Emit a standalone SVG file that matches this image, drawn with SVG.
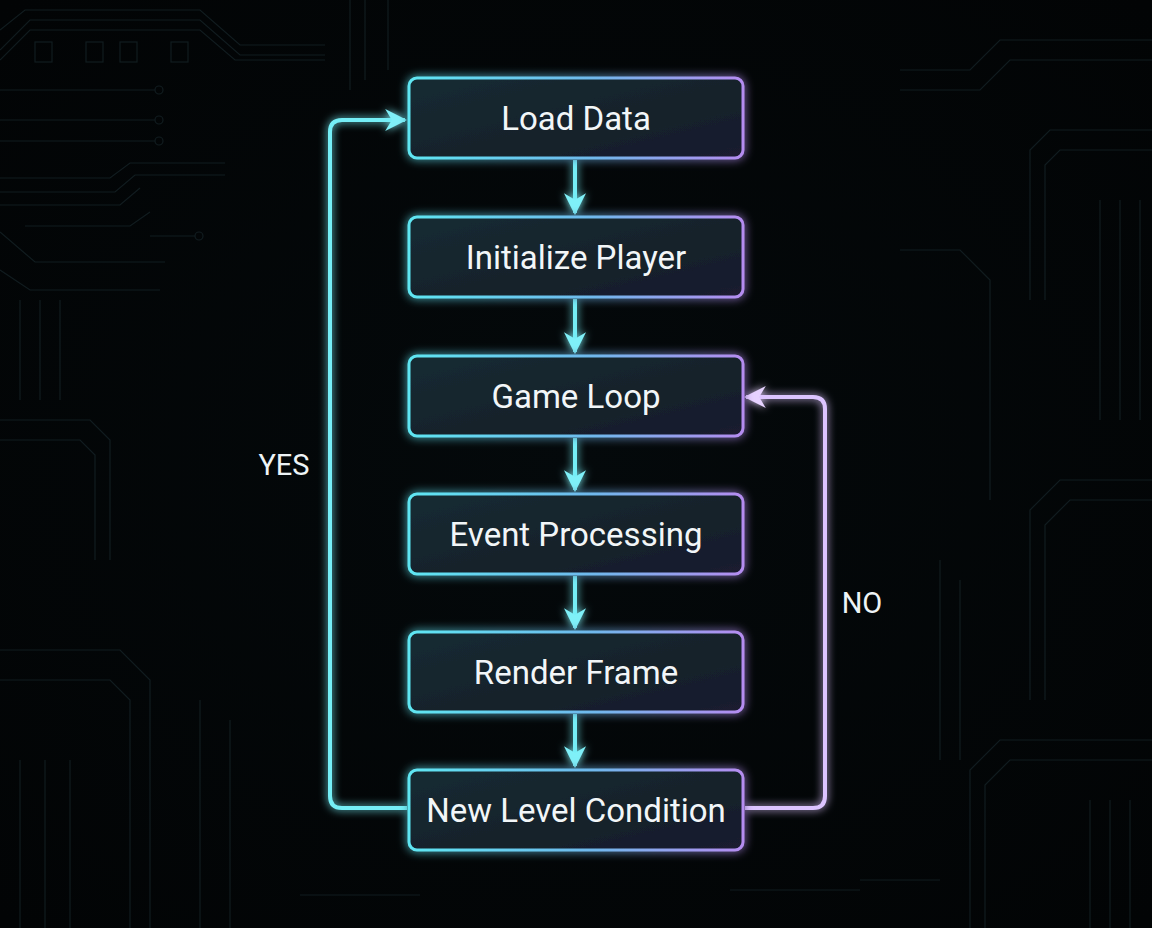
<svg xmlns="http://www.w3.org/2000/svg" width="1152" height="928" viewBox="0 0 1152 928">
<defs>
<linearGradient id="bstroke" x1="0" y1="0" x2="1" y2="0">
<stop offset="0" stop-color="#5fe6f2"/>
<stop offset="0.55" stop-color="#6fb8ec"/>
<stop offset="1" stop-color="#b58cf0"/>
</linearGradient>
<linearGradient id="bfill" x1="0" y1="0" x2="1" y2="1">
<stop offset="0" stop-color="#142b32"/>
<stop offset="0.6" stop-color="#12222b"/>
<stop offset="1" stop-color="#1b1a30"/>
</linearGradient>
<radialGradient id="bg" cx="0.5" cy="0.5" r="0.7">
<stop offset="0" stop-color="#04090b"/>
<stop offset="1" stop-color="#020405"/>
</radialGradient>
<filter id="glow" x="-20%" y="-40%" width="140%" height="180%">
<feGaussianBlur in="SourceGraphic" stdDeviation="5" result="b"/>
<feMerge><feMergeNode in="b"/><feMergeNode in="SourceGraphic"/></feMerge>
</filter>
<filter id="lglow" filterUnits="userSpaceOnUse" x="0" y="0" width="1152" height="928">
<feGaussianBlur in="SourceGraphic" stdDeviation="4" result="b"/>
<feMerge><feMergeNode in="b"/><feMergeNode in="SourceGraphic"/></feMerge>
</filter>
<marker id="ad" viewBox="0 0 10 10" refX="9" refY="5" markerWidth="22" markerHeight="22" orient="auto" markerUnits="userSpaceOnUse">
<path d="M0,0 L10,5 L0,10 L3,5 Z" fill="#7ff0f8"/>
</marker>
<marker id="ap" viewBox="0 0 10 10" refX="9" refY="5" markerWidth="22" markerHeight="22" orient="auto" markerUnits="userSpaceOnUse">
<path d="M0,0 L10,5 L0,10 L3,5 Z" fill="#e6d2ff"/>
</marker>
</defs>
<style>
.box{fill:url(#bfill);stroke:url(#bstroke);stroke-width:3;filter:url(#glow)}
.lbl{font-family:Roboto,"Liberation Sans",sans-serif;font-size:33px;fill:#f2f6f8;text-anchor:middle;dominant-baseline:central}
.side{font-family:Roboto,"Liberation Sans",sans-serif;font-size:29px;fill:#eef4f6;text-anchor:middle;dominant-baseline:central}
.cyan{fill:none;stroke:#74eef6;stroke-width:4;filter:url(#lglow)}
.purp{fill:none;stroke:#dcc4ff;stroke-width:4;filter:url(#lglow)}
.trace{fill:none;stroke:#152226;stroke-width:1.2}
</style>
<rect width="1152" height="928" fill="url(#bg)"/>
<g id="background" opacity="0.8">
<path class="trace" d="M0,30 L25,10 L200,10 L240,45 L325,45"/>
<path class="trace" d="M0,50 L30,20 L200,20 L240,55 L325,55"/>
<path class="trace" d="M0,60 L30,30 L200,30 L235,60 L325,60"/>
<rect class="trace" x="35" y="42" width="17" height="20"/>
<rect class="trace" x="86" y="42" width="17" height="20"/>
<rect class="trace" x="120" y="42" width="17" height="20"/>
<rect class="trace" x="171" y="42" width="17" height="20"/>
<path class="trace" d="M0,90 L155,90"/><circle class="trace" cx="159" cy="90" r="4"/>
<path class="trace" d="M0,120 L155,120"/><circle class="trace" cx="159" cy="120" r="4"/>
<path class="trace" d="M0,141 L155,141"/><circle class="trace" cx="159" cy="141" r="4"/>
<path class="trace" d="M0,178 L110,178 L130,163 L225,163"/>
<path class="trace" d="M0,192 L115,192 L135,175 L225,175"/>
<path class="trace" d="M0,205 L120,205 L140,188"/>
<path class="trace" d="M25,226 L130,226 L150,212"/>
<path class="trace" d="M0,232 L35,262 L165,262"/>
<path class="trace" d="M150,236 L195,236"/><circle class="trace" cx="199" cy="236" r="4"/>
<path class="trace" d="M0,270 L30,290 L160,290"/>
<path class="trace" d="M350,0 L350,90"/><path class="trace" d="M365,0 L365,80"/><path class="trace" d="M388,0 L388,70"/>
<path class="trace" d="M0,420 L90,420 L110,440 L110,560"/>
<path class="trace" d="M0,440 L80,440 L95,455 L95,560"/>
<path class="trace" d="M20,300 L20,400"/><path class="trace" d="M40,300 L40,400"/><path class="trace" d="M60,300 L60,400"/>
<path class="trace" d="M0,650 L120,650 L150,680 L150,928"/>
<path class="trace" d="M0,680 L110,680 L130,700 L130,928"/>
<path class="trace" d="M20,760 L20,928"/><path class="trace" d="M45,760 L45,928"/><path class="trace" d="M70,760 L70,928"/>
<path class="trace" d="M200,700 L200,928"/><path class="trace" d="M230,720 L230,928"/>
<path class="trace" d="M1152,40 L1000,40 L970,70 L900,70"/>
<path class="trace" d="M1152,60 L1010,60 L980,90 L900,90"/>
<path class="trace" d="M1152,130 L1050,130 L1030,150 L1030,300"/>
<path class="trace" d="M1152,150 L1060,150 L1045,165 L1045,300"/>
<path class="trace" d="M1100,200 L1100,420"/><path class="trace" d="M1120,200 L1120,420"/><path class="trace" d="M1140,200 L1140,420"/>
<path class="trace" d="M900,250 L960,250 L990,280 L990,500"/>
<path class="trace" d="M1152,480 L1060,480 L1030,510 L1030,700"/>
<path class="trace" d="M1152,500 L1070,500 L1045,525 L1045,700"/>
<path class="trace" d="M940,560 L940,760"/><path class="trace" d="M960,580 L960,760"/>
<path class="trace" d="M1152,740 L1000,740 L970,770 L970,928"/>
<path class="trace" d="M1152,760 L1010,760 L985,785 L985,928"/>
<path class="trace" d="M1090,800 L1090,928"/><path class="trace" d="M1110,800 L1110,928"/><path class="trace" d="M1130,800 L1130,928"/>
<path class="trace" d="M860,880 L940,880"/><path class="trace" d="M300,895 L420,895"/><path class="trace" d="M730,890 L860,890"/>
</g>
<g id="connectors">
<path class="cyan" d="M575,160 L575,213" marker-end="url(#ad)"/>
<path class="cyan" d="M575,299 L575,352" marker-end="url(#ad)"/>
<path class="cyan" d="M575,438 L575,490" marker-end="url(#ad)"/>
<path class="cyan" d="M575,576 L575,628" marker-end="url(#ad)"/>
<path class="cyan" d="M575,714 L575,766" marker-end="url(#ad)"/>
<path class="cyan" d="M407,808 L342,808 Q330,808 330,796 L330,132 Q330,120 342,120 L405,120" marker-end="url(#ad)"/>
<path class="purp" d="M745,808 L813,808 Q825,808 825,796 L825,409 Q825,397 813,397 L746,397" marker-end="url(#ap)"/>
</g>
<g id="label-yes"><text class="side" x="284" y="465">YES</text></g>
<g id="label-no"><text class="side" x="862" y="603">NO</text></g>
<g id="node-load-data">
<rect class="box" x="409" y="78" width="334" height="80" rx="8"/>
<text class="lbl" x="576" y="118">Load Data</text>
</g>
<g id="node-initialize-player">
<rect class="box" x="409" y="217" width="334" height="80" rx="8"/>
<text class="lbl" x="576" y="257">Initialize Player</text>
</g>
<g id="node-game-loop">
<rect class="box" x="409" y="356" width="334" height="80" rx="8"/>
<text class="lbl" x="576" y="396">Game Loop</text>
</g>
<g id="node-event-processing">
<rect class="box" x="409" y="494" width="334" height="80" rx="8"/>
<text class="lbl" x="576" y="534">Event Processing</text>
</g>
<g id="node-render-frame">
<rect class="box" x="409" y="632" width="334" height="80" rx="8"/>
<text class="lbl" x="576" y="672">Render Frame</text>
</g>
<g id="node-new-level-condition">
<rect class="box" x="409" y="770" width="334" height="80" rx="8"/>
<text class="lbl" x="576" y="810">New Level Condition</text>
</g>
</svg>
